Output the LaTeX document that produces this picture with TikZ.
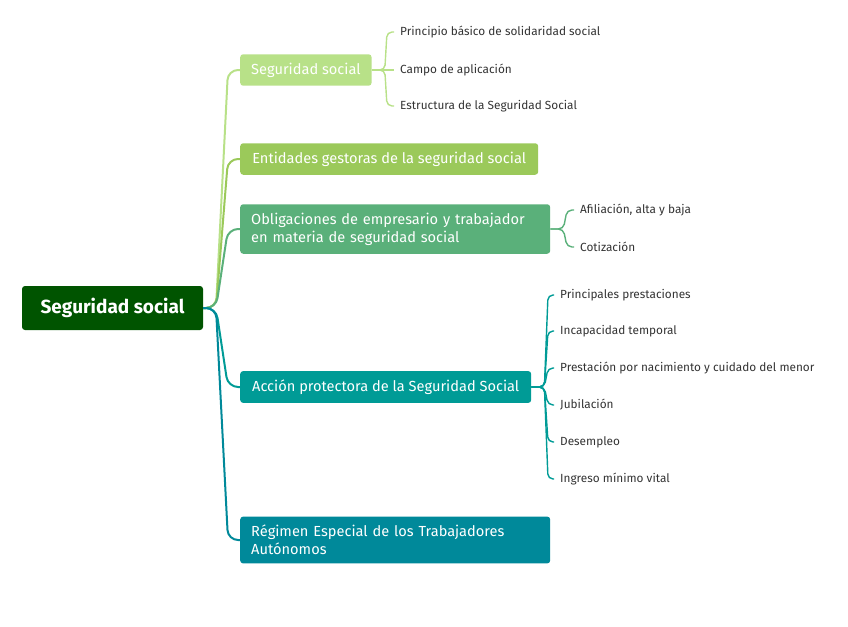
\documentclass[tikz,border=0pt]{standalone}
\usepackage{fontspec}
\setmainfont{Fira Sans}
\usetikzlibrary{positioning}

\definecolor{rootgreen}{RGB}{0,84,0}
\definecolor{segcol}{RGB}{184,225,136}
\definecolor{entcol}{RGB}{155,201,90}
\definecolor{oblcol}{RGB}{90,176,122}
\definecolor{acccol}{RGB}{0,155,150}
\definecolor{regcol}{RGB}{0,137,154}
\definecolor{leafgray}{RGB}{51,51,51}

\tikzset{
  topic/.style={fill=#1, text=white, rounded corners=3pt, anchor=west,
    inner xsep=11pt, inner ysep=8.5pt, align=left,
    font=\fontsize{14.6}{18}\selectfont},
  leaf/.style={text=leafgray, anchor=west, inner sep=0pt,
    font=\fontsize{11.8}{14}\selectfont},
  link/.style={draw=#1, line width=2pt, rounded corners=10pt},
  twig/.style={draw=#1, line width=1.4pt, rounded corners=5pt}
}

\begin{document}
\begin{tikzpicture}[x=1pt, y=-1pt]
\useasboundingbox (0,0) rectangle (848,626);

% central topic
\node[fill=rootgreen, text=white, rounded corners=3pt, minimum width=181pt,
  minimum height=44pt, font=\fontsize{19}{23}\selectfont\bfseries]
  (root) at (112.5,308) {Seguridad social};

% main topics
\node[topic=segcol, minimum width=131pt] (b1) at (240,70) {Seguridad social};
\node[topic=entcol, minimum width=298pt] (b2) at (240,159) {Entidades gestoras de la seguridad social};
\node[topic=oblcol, text width=288pt] (b3) at (240,229) {Obligaciones de empresario y trabajador\\en materia de seguridad social};
\node[topic=acccol, minimum width=291pt] (b4) at (240,387) {Acción protectora de la Seguridad Social};
\node[topic=regcol, text width=288pt] (b5) at (240,540) {Régimen Especial de los Trabajadores\\Autónomos};

\coordinate (jr) at (216,308);
\draw[link=segcol] (root.east) -- (jr) -- ([xshift=-12pt]b1.west) -- (b1.west);
\draw[link=entcol] (root.east) -- (jr) -- ([xshift=-12pt]b2.west) -- (b2.west);
\draw[link=oblcol] (root.east) -- (jr) -- ([xshift=-12pt]b3.west) -- (b3.west);
\draw[link=acccol] (root.east) -- (jr) -- ([xshift=-12pt]b4.west) -- (b4.west);
\draw[link=regcol] (root.east) -- (jr) -- ([xshift=-12pt]b5.west) -- (b5.west);

% subtopics
\foreach \name/\y/\txt in {l11/32/Principio básico de solidaridad social,
    l12/70/Campo de aplicación, l13/106/Estructura de la Seguridad Social}
  \node[leaf] (\name) at (400,\y) {\txt};
\foreach \name/\y/\txt in {l31/210/{Afiliación, alta y baja}, l32/247/Cotización}
  \node[leaf] (\name) at (580,\y) {\txt};
\foreach \name/\y/\txt in {l41/295/Principales prestaciones, l42/331/Incapacidad temporal,
    l43/368/Prestación por nacimiento y cuidado del menor, l44/405/Jubilación,
    l45/442/Desempleo, l46/479/Ingreso mínimo vital}
  \node[leaf] (\name) at (560,\y) {\txt};

\coordinate (j1) at ([xshift=13pt]b1.east);
\coordinate (j3) at ([xshift=13pt]b3.east);
\coordinate (j4) at ([xshift=13pt]b4.east);
\foreach \name in {l11,l12,l13}
  \draw[twig=segcol] (b1.east) -- (j1) -- ([xshift=-13pt]\name.west) -- ([xshift=-6pt]\name.west);
\foreach \name in {l31,l32}
  \draw[twig=oblcol] (b3.east) -- (j3) -- ([xshift=-13pt]\name.west) -- ([xshift=-6pt]\name.west);
\foreach \name in {l41,l42,l43,l44,l45,l46}
  \draw[twig=acccol] (b4.east) -- (j4) -- ([xshift=-12pt]\name.west) -- ([xshift=-6pt]\name.west);
\end{tikzpicture}
\end{document}
